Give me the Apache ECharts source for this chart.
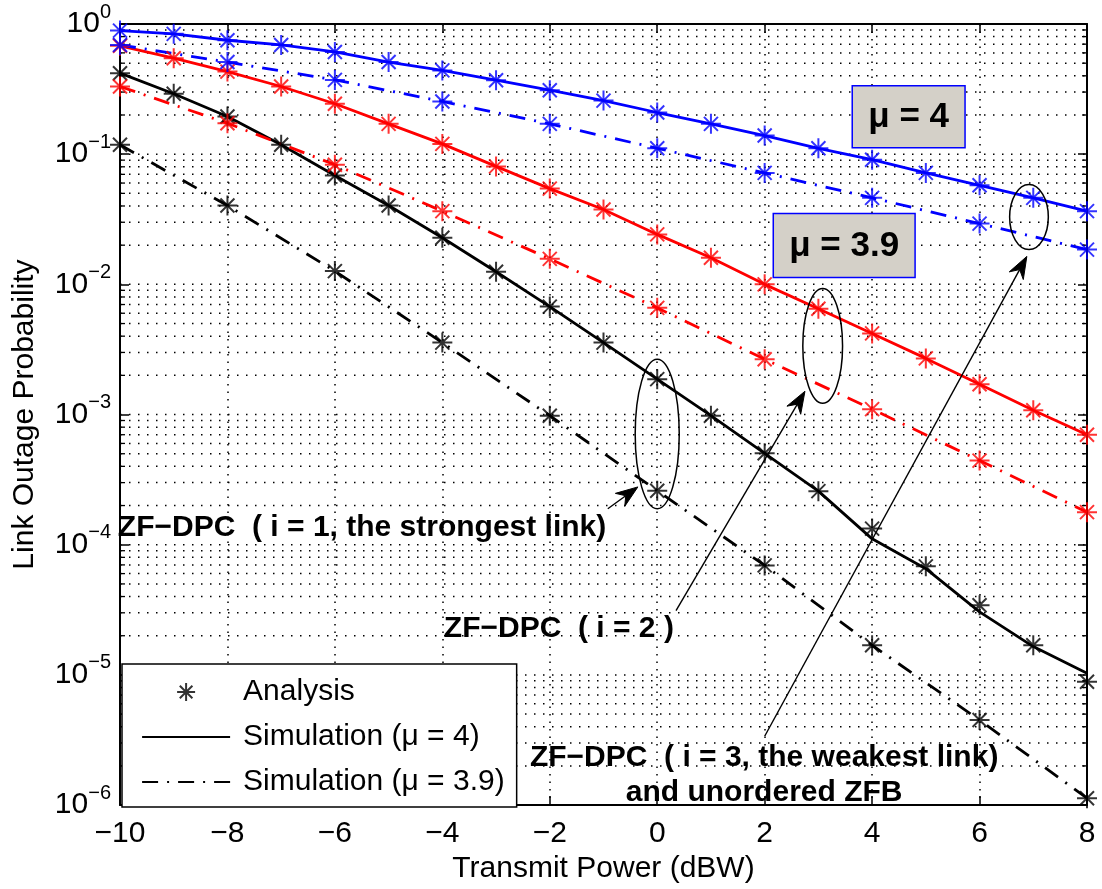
<!DOCTYPE html>
<html><head><meta charset="utf-8">
<script src="https://cdn.jsdelivr.net/npm/echarts@6/dist/echarts.min.js"></script>
<style>html,body{margin:0;padding:0;background:#fff}#c{width:1102px;height:889px}</style>
</head><body><div id="c"></div>
<script>
// ---------- data ----------
const xInt  = [-10,-9,-8,-7,-6,-5,-4,-3,-2,-1,0,1,2,3,4,5,6,7,8];
const xEven = [-10,-8,-6,-4,-2,0,2,4,6,8];

// i = 3 (weakest link) / unordered ZFB  (blue)
const blueMu4  = [0.89,0.84,0.75,0.69,0.61,0.51,0.44,0.37,0.31,0.258,0.209,0.171,0.139,0.111,0.0907,0.0718,0.0577,0.0462,0.0365];
const blueMu39 = [0.69,0.51,0.372,0.254,0.171,0.111,0.0718,0.0462,0.0293,0.0185];
// i = 2 (red)
const redMu4   = [0.68,0.546,0.431,0.331,0.244,0.171,0.120,0.0806,0.0544,0.0376,0.0242,0.0160,0.0100,0.0065,0.0042,0.0027,0.00171,0.00108,0.00070];
const redMu39  = [0.331,0.173,0.083,0.0365,0.0157,0.0066,0.00266,0.0011,0.000443,0.000178];
// i = 1 (strongest link, black)
const blackMu4Analysis = [0.419,0.291,0.195,0.118,0.0685,0.0403,0.0228,0.0125,0.00675,0.00357,0.00187,0.00098,0.000504,0.000258,0.000133,6.82e-5,3.43e-5,1.69e-5,8.87e-6];
const blackMu4Sim      = [0.419,0.291,0.195,0.118,0.0685,0.0403,0.0228,0.0125,0.00675,0.00357,0.00187,0.00098,0.000504,0.000258,0.000111,6.55e-5,3.05e-5,1.65e-5,1.03e-5];
const blackMu39 = [0.118,0.0403,0.01264,0.00357,0.00098,0.00026,6.94e-5,1.69e-5,4.5e-6,1.13e-6];

const legendNames = ['Analysis','Simulation (\u03bc = 4)','Simulation (\u03bc = 3.9)'];
const xTicks = [-10,-8,-6,-4,-2,0,2,4,6,8];

// ---------- styling ----------
const FONT = '"Liberation Sans", Arial, Helvetica, sans-serif';
const STAR = 'path://M10,0L10,20M0,10L20,10M3,3L17,17M17,3L3,17';
const DASHDOT = [16, 9, 2, 9];
const pairs = (xs, ys) => xs.map((x, i) => [x, ys[i]]);

function simLine(name, color, xs, ys, dash) {
  return { name, type: 'line', data: pairs(xs, ys), symbol: 'none', z: 3,
    itemStyle: { color }, lineStyle: { color, width: 2.8, type: dash ? DASHDOT : 'solid' },
    emphasis: { disabled: true } };
}
function ana(color, xs, ys) {
  return { name: 'Analysis', type: 'scatter', data: pairs(xs, ys), symbol: STAR, symbolSize: 20, z: 4,
    itemStyle: { color, borderColor: color, borderWidth: 2 }, emphasis: { disabled: true } };
}

// horizontal grid (decades and 2..9 subdivisions)
const hGrid = [];
for (let k = -6; k <= 0; k++) for (let m = 1; m <= 9; m++) { if (k === 0 && m > 1) break; hGrid.push([-10, m * Math.pow(10, k), m === 1 ? 1 : 0]); }

const chart = echarts.init(document.getElementById('c'), null, { renderer: 'canvas' });

const yLabel = {
  margin: 9, color: '#000',
  formatter: v => { const e = Math.round(Math.log10(v)); return '{b|10}{e|' + (e < 0 ? '\u2212' + (-e) : e) + '}'; },
  rich: { b: { fontSize: 30, lineHeight: 44, fontFamily: FONT, color: '#000' },
          e: { fontSize: 20, lineHeight: 20, verticalAlign: 'top', fontFamily: FONT, color: '#000' } }
};

const option = {
  animation: false,
  backgroundColor: '#fff',
  textStyle: { fontFamily: FONT },
  grid: { left: 120, right: 15, top: 24, bottom: 82, containLabel: false },
  legend: {
    orient: 'vertical', left: 122, top: 664, padding: [13, 12, 10, 19], itemGap: 15,
    itemWidth: 88, itemHeight: 18, backgroundColor: '#fff', borderColor: '#000', borderWidth: 1.5,
    textStyle: { fontFamily: FONT, fontSize: 30, color: '#000', padding: [0, 0, 0, 8] },
    data: [
      { name: legendNames[0] },
      { name: legendNames[1], itemStyle: { opacity: 0 }, lineStyle: { width: 2.2 } },
      { name: legendNames[2], itemStyle: { opacity: 0 }, lineStyle: { width: 2.2 } }
    ],
    selectedMode: false, z: 10
  },
  xAxis: [
    { type: 'value', min: -10, max: 8, interval: 2, position: 'bottom',
      name: 'Transmit Power (dBW)', nameLocation: 'middle', nameGap: 48,
      nameTextStyle: { fontSize: 30, color: '#000', fontFamily: FONT },
      axisLine: { onZero: false, lineStyle: { color: '#000', width: 2 } },
      axisTick: { inside: true, length: 9, lineStyle: { color: '#000', width: 1.5 } },
      axisLabel: { margin: 14, fontSize: 30, color: '#000', fontFamily: FONT,
        formatter: v => (v < 0 ? '\u2212' + (-v) : String(v)) },
      splitLine: { show: true, lineStyle: { color: '#000', width: 1.5, type: [1.5, 6] } } },
    { type: 'value', min: -10, max: 8, interval: 2, position: 'top',
      axisLine: { onZero: false, lineStyle: { color: '#000', width: 2 } },
      axisTick: { inside: true, length: 9, lineStyle: { color: '#000', width: 1.5 } },
      axisLabel: { show: false }, splitLine: { show: false } }
  ],
  yAxis: [
    { type: 'log', logBase: 10, min: 1e-6, max: 1, splitNumber: 6, position: 'left',
      name: 'Link Outage Probability', nameLocation: 'middle', nameGap: 80, nameRotate: 90,
      nameTextStyle: { fontSize: 30, color: '#000', fontFamily: FONT },
      axisLine: { onZero: false, lineStyle: { color: '#000', width: 2 } },
      axisTick: { inside: true, length: 9, lineStyle: { color: '#000', width: 1.5 } },
      axisLabel: yLabel, splitLine: { show: false } },
    { type: 'log', logBase: 10, min: 1e-6, max: 1, splitNumber: 6, position: 'right',
      axisLine: { onZero: false, lineStyle: { color: '#000', width: 2 } },
      axisTick: { inside: true, length: 9, lineStyle: { color: '#000', width: 1.5 } },
      axisLabel: { show: false }, splitLine: { show: false } }
  ],
  series: [
    { type: 'custom', name: 'grid', silent: true, z: 1, clip: false, data: hGrid,
      renderItem: (params, api) => {
        const cs = params.coordSys;
        const y = api.coord([api.value(0), api.value(1)])[1];
        const ch = [{ type: 'line', shape: { x1: cs.x, y1: y, x2: cs.x + cs.width, y2: y },
          style: { stroke: '#000', lineWidth: 1.5, lineDash: [1.5, 7.5] } }];
        if (!api.value(2)) {
          ch.push({ type: 'line', shape: { x1: cs.x, y1: y, x2: cs.x + 5, y2: y }, style: { stroke: '#000', lineWidth: 1.3 } });
          ch.push({ type: 'line', shape: { x1: cs.x + cs.width - 5, y1: y, x2: cs.x + cs.width, y2: y }, style: { stroke: '#000', lineWidth: 1.3 } });
        }
        return { type: 'group', children: ch };
      } },
    simLine(legendNames[1], '#000', xInt, blackMu4Sim, false),
    ana('#000', xInt, blackMu4Analysis),
    simLine(legendNames[2], '#000', xEven, blackMu39, true),
    ana('#000', xEven, blackMu39),
    simLine(legendNames[1], '#ff0000', xInt, redMu4, false),
    ana('#ff0000', xInt, redMu4),
    simLine(legendNames[2], '#ff0000', xEven, redMu39, true),
    ana('#ff0000', xEven, redMu39),
    simLine(legendNames[1], '#0000ff', xInt, blueMu4, false),
    ana('#0000ff', xInt, blueMu4),
    simLine(legendNames[2], '#0000ff', xEven, blueMu39, true),
    ana('#0000ff', xEven, blueMu39)
  ]
};
chart.setOption(option);

// ---------- annotations (anchored in data coordinates) ----------
const P = (x, v) => chart.convertToPixel({ xAxisIndex: 0, yAxisIndex: 0 }, [x, v]);
const ellipses = [
  { x: 0,    top: 2.66e-3, bot: 1.89e-4, hw: 0.41 },
  { x: 3.08, top: 9.3e-3,  bot: 1.22e-3, hw: 0.37 },
  { x: 6.92, top: 0.0584,  bot: 0.0185,  hw: 0.36 }
];
const arrows = [
  { from: [-0.92, 1.89e-4], to: [-0.36, 2.78e-4] },
  { from: [0.35, 3.12e-5],  to: [2.75, 1.51e-3] },
  { from: [2.0, 3.38e-6],   to: [6.88, 0.0164] }
];
const texts = [
  { at: [-10.04, 1.35e-4], text: 'ZF\u2212DPC  ( i = 1, the strongest link)', align: 'left' },
  { at: [0.31, 2.27e-5],   text: 'ZF\u2212DPC  ( i = 2 )', align: 'right' },
  { at: [1.99, 1.71e-6],   text: 'ZF\u2212DPC  ( i = 3, the weakest link)\nand unordered ZFB', align: 'center' }
];
const boxes = [
  { x0: 3.63, x1: 5.73, v0: 0.335, v1: 0.112, text: '\u03bc = 4' },
  { x0: 2.16, x1: 4.80, v0: 0.035, v1: 0.0113, text: '\u03bc = 3.9' }
];

const g = [];
ellipses.forEach(e => {
  const t = P(e.x, e.top), b = P(e.x, e.bot), r = P(e.x + e.hw, e.top);
  g.push({ type: 'ellipse', z: 50, silent: true,
    shape: { cx: t[0], cy: (t[1] + b[1]) / 2, rx: r[0] - t[0], ry: (b[1] - t[1]) / 2 },
    style: { fill: 'none', stroke: '#000', lineWidth: 1.5 } });
});
arrows.forEach(a => {
  const f = P(a.from[0], a.from[1]), t = P(a.to[0], a.to[1]);
  const dx = t[0] - f[0], dy = t[1] - f[1], L = Math.hypot(dx, dy);
  const ux = dx / L, uy = dy / L, nx = -uy, ny = ux;
  const HL = 22, HW = 8, notch = 15;
  g.push({ type: 'line', z: 50, silent: true,
    shape: { x1: f[0], y1: f[1], x2: t[0] - ux * notch, y2: t[1] - uy * notch },
    style: { stroke: '#000', lineWidth: 1.4 } });
  g.push({ type: 'polygon', z: 51, silent: true,
    shape: { points: [[t[0], t[1]],
      [t[0] - ux * HL + nx * HW, t[1] - uy * HL + ny * HW],
      [t[0] - ux * notch, t[1] - uy * notch],
      [t[0] - ux * HL - nx * HW, t[1] - uy * HL - ny * HW]] },
    style: { fill: '#000', stroke: '#000', lineWidth: 1 } });
});
texts.forEach(tx => {
  const p = P(tx.at[0], tx.at[1]);
  g.push({ type: 'text', z: 60, silent: true,
    style: { text: tx.text, x: p[0], y: p[1], font: 'bold 30px ' + FONT, fill: '#000',
      align: tx.align, textAlign: tx.align, verticalAlign: 'middle', textVerticalAlign: 'middle', lineHeight: 35 } });
});
boxes.forEach(bx => {
  const a = P(bx.x0, bx.v0), b = P(bx.x1, bx.v1);
  g.push({ type: 'rect', z: 60, silent: true,
    shape: { x: a[0], y: a[1], width: b[0] - a[0], height: b[1] - a[1] },
    style: { fill: '#d4d0c8', stroke: '#0000ff', lineWidth: 1.5 } });
  g.push({ type: 'text', z: 61, silent: true,
    style: { text: bx.text, x: (a[0] + b[0]) / 2, y: (a[1] + b[1]) / 2 + 1, font: 'bold 35px ' + FONT, fill: '#000',
      align: 'center', textAlign: 'center', verticalAlign: 'middle', textVerticalAlign: 'middle' } });
});
chart.setOption({ graphic: { elements: g } });
</script>
</body></html>
